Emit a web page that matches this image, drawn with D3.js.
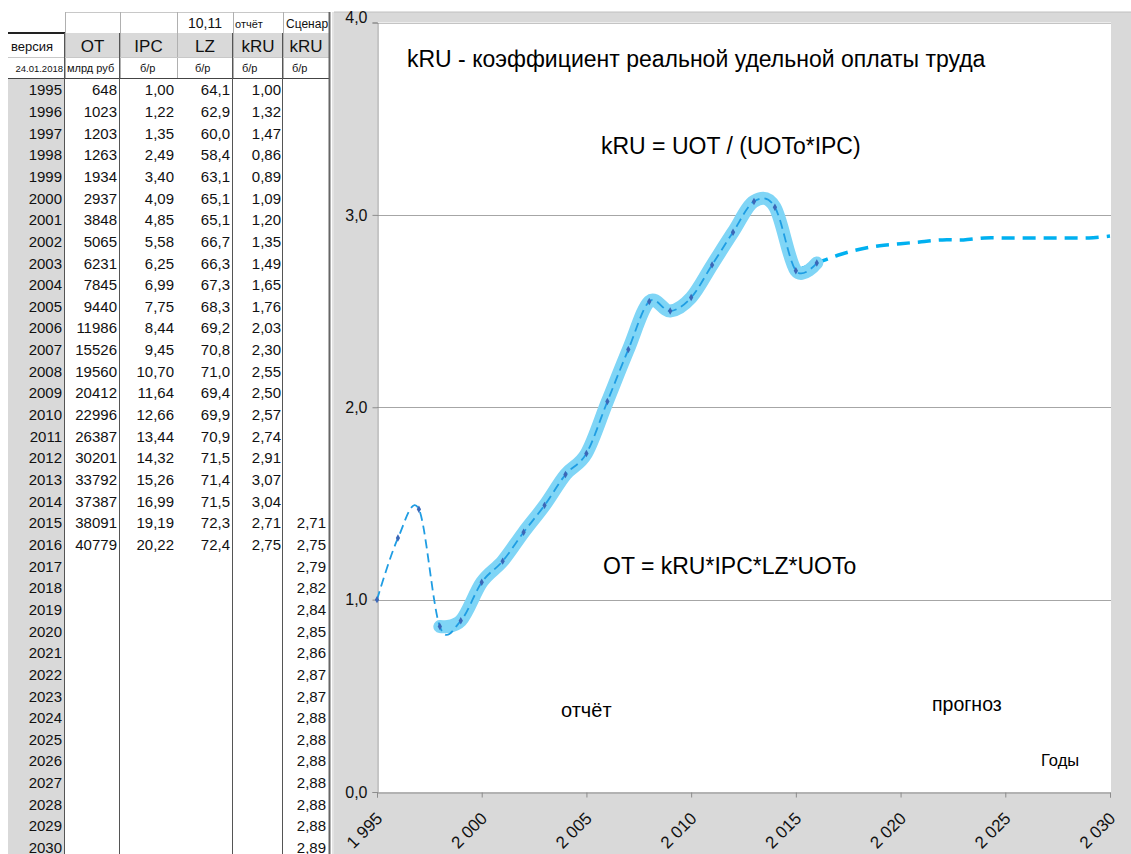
<!DOCTYPE html>
<html>
<head>
<meta charset="utf-8">
<script src="https://cdn.jsdelivr.net/npm/d3@7"></script>
<style>
  body { margin: 0; background: #fff; }
  text { font-family: "Liberation Sans", Arial, sans-serif; }
</style>
</head>
<body>
<script>
// ---- data read from the sheet ----
var years = [1995, 1996, 1997, 1998, 1999, 2000, 2001, 2002, 2003, 2004, 2005, 2006,
             2007, 2008, 2009, 2010, 2011, 2012, 2013, 2014, 2015, 2016, 2017, 2018,
             2019, 2020, 2021, 2022, 2023, 2024, 2025, 2026, 2027, 2028, 2029, 2030];
var otValues = [648, 1023, 1203, 1263, 1934, 2937, 3848, 5065, 6231, 7845, 9440, 11986,
                15526, 19560, 20412, 22996, 26387, 30201, 33792, 37387, 38091, 40779];
var ipcValues = [1.00, 1.22, 1.35, 2.49, 3.40, 4.09, 4.85, 5.58, 6.25, 6.99, 7.75, 8.44,
                 9.45, 10.70, 11.64, 12.66, 13.44, 14.32, 15.26, 16.99, 19.19, 20.22];
var lzValues = [64.1, 62.9, 60.0, 58.4, 63.1, 65.1, 65.1, 66.7, 66.3, 67.3, 68.3, 69.2,
                70.8, 71.0, 69.4, 69.9, 70.9, 71.5, 71.4, 71.5, 72.3, 72.4];
var kruValues = [1.00, 1.32, 1.47, 0.86, 0.89, 1.09, 1.20, 1.35, 1.49, 1.65, 1.76, 2.03,
                 2.30, 2.55, 2.50, 2.57, 2.74, 2.91, 3.07, 3.04, 2.71, 2.75];
// scenario kRU, starting in 2015
var scenarioStart = 2015;
var scenarioValues = [2.71, 2.75, 2.79, 2.82, 2.84, 2.85, 2.86, 2.87, 2.87, 2.88, 2.88,
                      2.88, 2.88, 2.88, 2.88, 2.89];
var highlightStart = 1998;

var yTicks = [0, 1, 2, 3, 4];
var xTicks = [1995, 2000, 2005, 2010, 2015, 2020, 2025, 2030];

var ru = d3.formatLocale({decimal: ",", thousands: "\u00a0", grouping: [3], currency: ["", " руб"]});
var f2 = ru.format(".2f"), f1 = ru.format(".1f"), fYear = ru.format(",d");

var svg = d3.select("body").append("svg")
    .attr("width", 1131)
    .attr("height", 854);

// ================= table =================
var table = svg.append("g");
var colEdges = [8, 65, 120, 177, 233, 283, 330];
var rowTop = 79, rowH = 21.65;

// year column background
table.append("rect").attr("x", 8).attr("y", 79).attr("width", 57).attr("height", 780).attr("fill", "#d9d9d9");
// header gray cells
table.append("rect").attr("x", 65).attr("y", 33).attr("width", 265).attr("height", 24).attr("fill", "#d9d9d9");

// light grid of the header rows
table.append("line").attr("x1", 65).attr("x2", 330).attr("y1", 12.5).attr("y2", 12.5).attr("stroke", "#c8c8c8");
colEdges.slice(1, 6).forEach(function (x) {
    table.append("line").attr("x1", x + 0.5).attr("x2", x + 0.5).attr("y1", 12).attr("y2", 79)
        .attr("stroke", "#b0b0b0");
});
table.append("line").attr("x1", 8).attr("x2", 330).attr("y1", 57.5).attr("y2", 57.5).attr("stroke", "#c8c8c8");
// dark borders
table.append("line").attr("x1", 8).attr("x2", 65).attr("y1", 33).attr("y2", 33).attr("stroke", "#222").attr("stroke-width", 2);
table.append("line").attr("x1", 8).attr("x2", 330).attr("y1", 78.5).attr("y2", 78.5).attr("stroke", "#444");
[65, 120, 233, 283].forEach(function (x) {
    table.append("line").attr("x1", x - 0.5).attr("x2", x - 0.5).attr("y1", 33).attr("y2", 854)
        .attr("stroke", "#555");
});
table.append("line").attr("x1", 329.5).attr("x2", 329.5).attr("y1", 12).attr("y2", 854).attr("stroke", "#666").attr("stroke-width", 2);
table.append("line").attr("x1", 333).attr("x2", 333).attr("y1", 12).attr("y2", 854).attr("stroke", "#c8c8c8");

// header texts
function hText(x, y, s, size, anchor) {
    table.append("text").attr("x", x).attr("y", y).attr("font-size", size)
        .attr("text-anchor", anchor || "start").attr("fill", "#111").text(s);
}
hText(205, 28, "10,11", 14, "middle");
hText(235, 28, "отчёт", 11);
hText(286, 28, "Сценар", 12);
hText(11, 51, "версия", 13);
hText(92.5, 52, "OT", 17, "middle");
hText(148.5, 52, "IPC", 17, "middle");
hText(205, 52, "LZ", 17, "middle");
hText(258, 52, "kRU", 17, "middle");
hText(306, 52, "kRU", 17, "middle");
hText(63, 72, "24.01.2018", 9.5, "end");
hText(67, 72, "млрд руб", 11);
hText(140, 72, "б/р", 11);
hText(195, 72, "б/р", 11);
hText(242, 72, "б/р", 11);
hText(292, 72, "б/р", 11);

var rowY = d3.scaleBand().domain(years).range([rowTop, rowTop + rowH * years.length]);
var rows = table.selectAll(".row").data(years).enter().append("g")
    .attr("transform", function (d) { return "translate(0," + (rowY(d) + rowH / 2 + 5.5) + ")"; });
function col(x, fn) {
    rows.append("text").attr("x", x).attr("text-anchor", "end").attr("font-size", 15).attr("fill", "#111")
        .text(function (d, i) { return fn(d, i); });
}
col(62, function (d) { return d; });
col(117, function (d, i) { return i < otValues.length ? otValues[i] : ""; });
col(174, function (d, i) { return i < ipcValues.length ? f2(ipcValues[i]) : ""; });
col(230, function (d, i) { return i < lzValues.length ? f1(lzValues[i]) : ""; });
col(281, function (d, i) { return i < kruValues.length ? f2(kruValues[i]) : ""; });
col(326, function (d) {
    var k = d - scenarioStart;
    return k >= 0 && k < scenarioValues.length ? f2(scenarioValues[k]) : "";
});

// ================= chart =================
var chart = svg.append("g");
chart.append("rect").attr("x", 334).attr("y", 12).attr("width", 797).attr("height", 842).attr("fill", "#d9d9d9");
chart.append("line").attr("x1", 334).attr("x2", 1131).attr("y1", 12).attr("y2", 12).attr("stroke", "#c0c0c0");

var x = d3.scaleLinear().domain([1995, 2030]).range([377, 1110]);
var y = d3.scaleLinear().domain([0, 4]).range([792, 22.5]);

chart.append("rect").attr("x", 377).attr("y", y(4)).attr("width", 734).attr("height", y(0) - y(4))
    .attr("fill", "#fff");

// grid
chart.append("g").selectAll("line").data(yTicks.slice(1)).enter().append("line")
    .attr("x1", 377).attr("x2", 1111)
    .attr("y1", function (d) { return Math.round(y(d)) + 0.5; })
    .attr("y2", function (d) { return Math.round(y(d)) + 0.5; })
    .attr("stroke", function (d) { return d === 4 ? "#c4c4c4" : "#a6a6a6"; });

var yAxis = chart.append("g").attr("transform", "translate(377.5,0)")
    .call(d3.axisLeft(y).tickValues(yTicks).tickFormat(f1).tickSize(5).tickPadding(5));
var xAxis = chart.append("g").attr("transform", "translate(0,792.5)")
    .call(d3.axisBottom(x).tickValues(xTicks).tickFormat(fYear).tickSize(5));
[yAxis, xAxis].forEach(function (a) {
    a.select(".domain").attr("stroke", "#8c8c8c");
    a.selectAll(".tick line").attr("stroke", "#8c8c8c");
    a.selectAll("text").attr("font-size", 16).attr("fill", "#111")
        .attr("font-family", "'Liberation Sans', Arial, sans-serif");
});
yAxis.selectAll(".tick text").attr("dy", function (d) { return d === 4 ? "0.02em" : "0.32em"; });
xAxis.selectAll(".tick text")
    .attr("text-anchor", "end")
    .attr("font-size", 17)
    .attr("dy", null)
    .attr("y", 0)
    .attr("transform", "translate(6,27) rotate(-45)");

// series
var kruPoints = kruValues.map(function (v, i) { return [years[i], v]; });
var highlightPoints = kruPoints.filter(function (p) { return p[0] >= highlightStart; });
var scenarioPoints = scenarioValues.map(function (v, i) { return [scenarioStart + i, v]; });

var line = d3.line()
    .x(function (d) { return x(d[0]); })
    .y(function (d) { return y(d[1]); })
    .curve(d3.curveCardinal.tension(0));

chart.append("path").datum(scenarioPoints).attr("d", line)
    .attr("fill", "none").attr("stroke", "#00b0f0").attr("stroke-width", 3.5)
    .attr("stroke-dasharray", "13,8");
chart.append("path").datum(highlightPoints).attr("d", line)
    .attr("fill", "none").attr("stroke", "#7fd5f6").attr("stroke-width", 13)
    .attr("stroke-linecap", "round").attr("stroke-linejoin", "round");
chart.append("path").datum(kruPoints).attr("d", line)
    .attr("fill", "none").attr("stroke", "#1f9de3").attr("stroke-width", 1.8)
    .attr("stroke-dasharray", "9,5");
chart.append("g").selectAll("path").data(kruPoints).enter().append("path")
    .attr("d", d3.symbol().type(d3.symbolDiamond).size(16))
    .attr("transform", function (d) { return "translate(" + x(d[0]) + "," + y(d[1]) + ")"; })
    .attr("fill", "#3b67b8");

// annotations
function note(xp, yp, s, size) {
    chart.append("text").attr("x", xp).attr("y", yp).attr("font-size", size).attr("fill", "#000").text(s);
}
note(407, 67, "kRU - коэффициент  реальной  удельной  оплаты  труда", 23);
note(601, 154, "kRU = UOT / (UOTo*IPC)", 23);
note(603, 574, "OT = kRU*IPC*LZ*UOTo", 23);
note(561, 717, "отчёт", 20);
note(932, 711, "прогноз", 19.5);
note(1041, 766, "Годы", 16.5);
</script>
</body>
</html>
